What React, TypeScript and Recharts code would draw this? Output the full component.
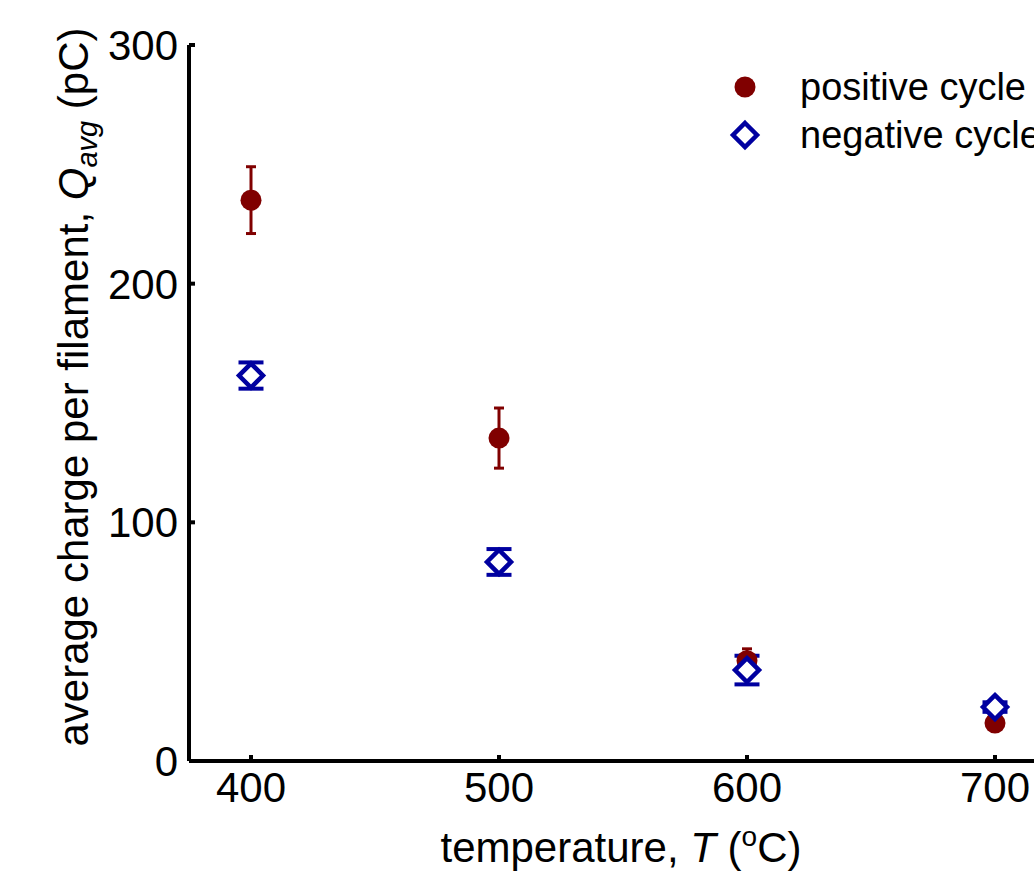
import React from 'react';
import {
  ScatterChart,
  Scatter,
  XAxis,
  YAxis,
  ErrorBar,
  Label,
} from 'recharts';

// temperature (°C)
const temperatures = [400, 500, 600, 700];

// positive cycle: average charge per filament (pC) and error
const positiveQ = [235, 135.3, 42, 15.9];
const positiveErr = [14, 12.6, 5, 2];

// negative cycle
const negativeQ = [161.5, 83.4, 38.1, 22.6];
const negativeErr = [5.5, 5.4, 6, 2];

const xTicks = [400, 500, 600, 700];
const yTicks = [0, 100, 200, 300];

const seriesNames = ['positive cycle', 'negative cycle'];

const RED = '#800000';
const BLUE = '#0000a0';
const FONT = '"Liberation Sans", Arial, sans-serif';

const positiveData = temperatures.map((t, i) => ({
  T: t,
  Q: positiveQ[i],
  err: positiveErr[i],
}));

const negativeData = temperatures.map((t, i) => ({
  T: t,
  Q: negativeQ[i],
  err: negativeErr[i],
}));

const BottomTick = (props: any) => {
  const { x, y, payload } = props;
  return (
    <g>
      <line x1={x} y1={y} x2={x} y2={y - 6} stroke="#000" strokeWidth={4} />
      <text
        x={x}
        y={y + 41}
        textAnchor="middle"
        fontSize={42}
        fontFamily={FONT}
        fill="#000"
      >
        {payload.value}
      </text>
    </g>
  );
};

const TopTick = (props: any) => {
  const { x, y } = props;
  return <line x1={x} y1={y} x2={x} y2={y + 6} stroke="#000" strokeWidth={4} />;
};

const LeftTick = (props: any) => {
  const { x, y, payload } = props;
  return (
    <g>
      <line x1={x} y1={y} x2={x + 6} y2={y} stroke="#000" strokeWidth={4} />
      <text
        x={x - 11}
        y={y}
        dy="0.355em"
        textAnchor="end"
        fontSize={42}
        fontFamily={FONT}
        fill="#000"
      >
        {payload.value}
      </text>
    </g>
  );
};

const Dot = (props: any) => (
  <circle cx={props.cx} cy={props.cy} r={10.5} fill={RED} />
);

const Diamond = (props: any) => {
  const { cx, cy } = props;
  const h = 12;
  return (
    <path
      d={`M${cx},${cy - h}L${cx + h},${cy}L${cx},${cy + h}L${cx - h},${cy}Z`}
      fill="#fff"
      stroke={BLUE}
      strokeWidth={4.5}
    />
  );
};

// legend sits inside the plot box, top right
const LegendBox = () => (
  <div
    style={{
      position: 'absolute',
      left: 725,
      top: 63,
      fontFamily: FONT,
      fontSize: 38,
      color: '#000',
      lineHeight: '48px',
    }}
  >
    <div style={{ display: 'flex', alignItems: 'center', whiteSpace: 'nowrap' }}>
      <svg width={75} height={48}>
        <circle cx={20} cy={24} r={10.5} fill={RED} />
      </svg>
      <span>{seriesNames[0]}</span>
    </div>
    <div style={{ display: 'flex', alignItems: 'center', whiteSpace: 'nowrap' }}>
      <svg width={75} height={48}>
        <path d="M20,12L32,24L20,36L8,24Z" fill="#fff" stroke={BLUE} strokeWidth={4.5} />
      </svg>
      <span>{seriesNames[1]}</span>
    </div>
  </div>
);

const XTitle = (props: any) => {
  const vb = props.viewBox || {};
  const cx = vb.x + vb.width / 2 - 2;
  return (
    <text x={cx} y={862} textAnchor="middle" fontSize={42} fontFamily={FONT} fill="#000">
      temperature, <tspan fontStyle="italic">T</tspan> (
      <tspan fontSize={28} dy={-16}>o</tspan>
      <tspan dy={16}>C)</tspan>
    </text>
  );
};

const YTitle = () => (
  <text
    x={88}
    y={387}
    transform="rotate(-90 88 387)"
    textAnchor="middle"
    fontSize={42}
    fontFamily={FONT}
    fill="#000"
  >
    average charge per filament, <tspan fontStyle="italic">Q</tspan>
    <tspan fontSize={29} fontStyle="italic" dy={9}>avg</tspan>
    <tspan dy={-9}> (pC)</tspan>
  </text>
);

export default function App() {
  return (
    <div
      style={{
        position: 'absolute',
        left: 0,
        top: 0,
        width: 1034,
        height: 873,
        overflow: 'hidden',
        background: '#fff',
      }}
    >
      <ScatterChart
        width={1100}
        height={873}
        margin={{ top: 45, right: 43, bottom: 0, left: 0 }}
      >
        <XAxis
          xAxisId="bottom"
          type="number"
          dataKey="T"
          domain={[375, 725]}
          ticks={xTicks}
          allowDataOverflow
          height={112}
          tickSize={0}
          tickMargin={0}
          tickLine={false}
          axisLine={{ stroke: '#000', strokeWidth: 4 }}
          tick={<BottomTick />}
        >
          <Label content={<XTitle />} />
        </XAxis>
        <XAxis
          xAxisId="top"
          orientation="top"
          type="number"
          dataKey="T"
          domain={[375, 725]}
          ticks={xTicks}
          allowDataOverflow
          height={0}
          tickSize={0}
          tickMargin={0}
          tickLine={false}
          axisLine={{ stroke: '#000', strokeWidth: 4 }}
          tick={<TopTick />}
        />
        <YAxis
          type="number"
          dataKey="Q"
          domain={[0, 300]}
          ticks={yTicks}
          allowDataOverflow
          width={189}
          tickSize={0}
          tickMargin={0}
          tickLine={false}
          axisLine={{ stroke: '#000', strokeWidth: 4 }}
          tick={<LeftTick />}
        >
          <Label content={<YTitle />} />
        </YAxis>
        <Scatter
          name={seriesNames[0]}
          data={positiveData}
          xAxisId="bottom"
          shape={<Dot />}
          isAnimationActive={false}
        >
          <ErrorBar dataKey="err" direction="y" width={5} strokeWidth={3} stroke={RED} />
        </Scatter>
        <Scatter
          name={seriesNames[1]}
          data={negativeData}
          xAxisId="bottom"
          shape={<Diamond />}
          isAnimationActive={false}
        >
          <ErrorBar dataKey="err" direction="y" width={12.5} strokeWidth={4} stroke={BLUE} />
        </Scatter>
      </ScatterChart>
      <LegendBox />
    </div>
  );
}
